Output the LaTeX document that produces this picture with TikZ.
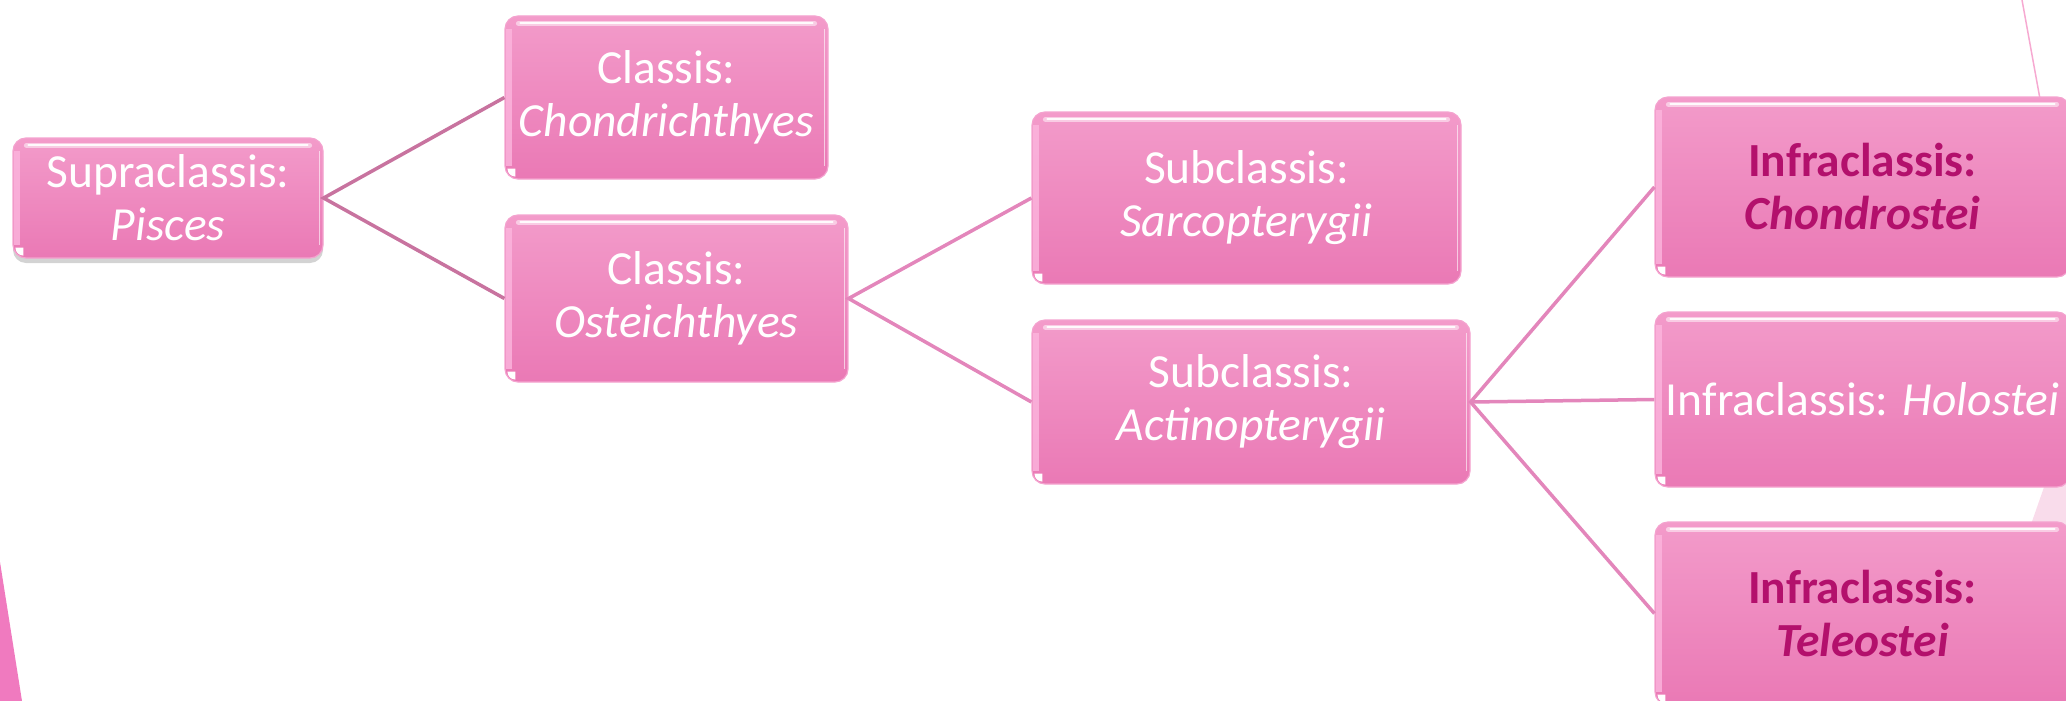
\documentclass[tikz,border=0pt]{standalone}
\usepackage{fontspec}
\setmainfont{Carlito}
\usetikzlibrary{shadows}
\definecolor{boxtop}{HTML}{F39BCA}
\definecolor{boxbot}{HTML}{EA79B5}
\definecolor{boxedge}{HTML}{F4A3CF}
\definecolor{lefthl}{HTML}{FCB6DE}
\definecolor{darkmag}{HTML}{B3106C}
\definecolor{linemauve}{HTML}{C8739F}
\definecolor{linepink}{HTML}{E386BB}
\definecolor{trifill}{HTML}{F07ABF}
\definecolor{palefill}{HTML}{F9DCEB}
\definecolor{thinline}{HTML}{F6A9D1}
\newcommand{\glassdeco}[1]{%
 \draw[white, line width=5pt, opacity=0.5, line cap=round] ([xshift=14pt,yshift=-8pt]#1.north west) -- ([xshift=-14pt,yshift=-8pt]#1.north east);
 \draw[white, line width=2pt, opacity=0.9, line cap=round] ([xshift=16pt,yshift=-8pt]#1.north west) -- ([xshift=-16pt,yshift=-8pt]#1.north east);
 \draw[lefthl, line width=6pt, opacity=0.8] ([xshift=5pt,yshift=-14pt]#1.north west) -- ([xshift=5pt,yshift=14pt]#1.south west);
 \draw[white, line width=1.5pt, opacity=0.6] ([xshift=-4pt,yshift=-14pt]#1.north east) -- ([xshift=-4pt,yshift=14pt]#1.south east);
 \fill[white] ([xshift=3pt,yshift=11pt]#1.south west) -- ([xshift=11pt,yshift=11pt]#1.south west) -- ([xshift=11pt,yshift=3pt]#1.south west) arc[start angle=270,end angle=180,radius=8pt] -- cycle;
}
\begin{document}
\begin{tikzpicture}[x=1pt,y=-1pt,
  glass/.style={rounded corners=13pt, draw=boxedge, line width=1.2pt, top color=boxtop, bottom color=boxbot, inner sep=0pt, align=center, text=white, font=\fontsize{47.5}{53}\selectfont},
  boldtxt/.style={text=darkmag, font=\fontsize{47.5}{53}\selectfont\bfseries},
  conn1/.style={draw=linemauve, line width=3.5pt},
  conn2/.style={draw=linepink, line width=3.5pt}]
\useasboundingbox (0,0) rectangle (2066,701);
\clip (0,0) rectangle (2066,701);
% background decorations
\fill[trifill] (0,562) -- (22,701) -- (0,701) -- cycle;
\draw[thinline, line width=1.5pt] (2022,0) -- (2042,110);
\fill[palefill] (2050,470) -- (2066,470) -- (2066,530) -- (2029,530) -- cycle;
% boxes
\node[glass, minimum width=310pt, minimum height=120pt, drop shadow={shadow xshift=0pt, shadow yshift=-5pt, opacity=0.35, fill=gray}] (sup) at (168,198) {Supraclassis:\\\textit{Pisces}};
\node[glass, minimum width=323pt, minimum height=163pt] (chon) at (666.5,97.5) {Classis:\\\textit{Chondrichthyes}};
\node[glass, minimum width=343pt, minimum height=167pt] (oste) at (676.5,298.5) {Classis:\\\textit{Osteichthyes}};
\node[glass, minimum width=429pt, minimum height=172pt] (sarc) at (1246.5,198) {Subclassis:\\\textit{Sarcopterygii}};
\node[glass, minimum width=438pt, minimum height=164pt] (acti) at (1251,402) {Subclassis:\\\textit{Actinopterygii}};
\node[glass, boldtxt, minimum width=415pt, minimum height=180pt] (chst) at (1862.5,187) {Infraclassis:\\\textit{Chondrostei}};
\node[glass, minimum width=415pt, minimum height=175pt] (holo) at (1862.5,399.5) {Infraclassis: \textit{Holostei}};
\node[glass, boldtxt, minimum width=415pt, minimum height=183pt] (tele) at (1862.5,613.5) {Infraclassis:\\\textit{Teleostei}};
\foreach \b in {sup,chon,oste,sarc,acti,chst,holo,tele} {\glassdeco{\b}}
% connectors
\draw[conn1] (chon.west) -- (sup.east) -- (oste.west);
\draw[conn2] (sarc.west) -- (oste.east) -- (acti.west);
\draw[conn2] (chst.west) -- (acti.east) -- (tele.west);
\draw[conn2] (acti.east) -- (holo.west);
\end{tikzpicture}
\end{document}
